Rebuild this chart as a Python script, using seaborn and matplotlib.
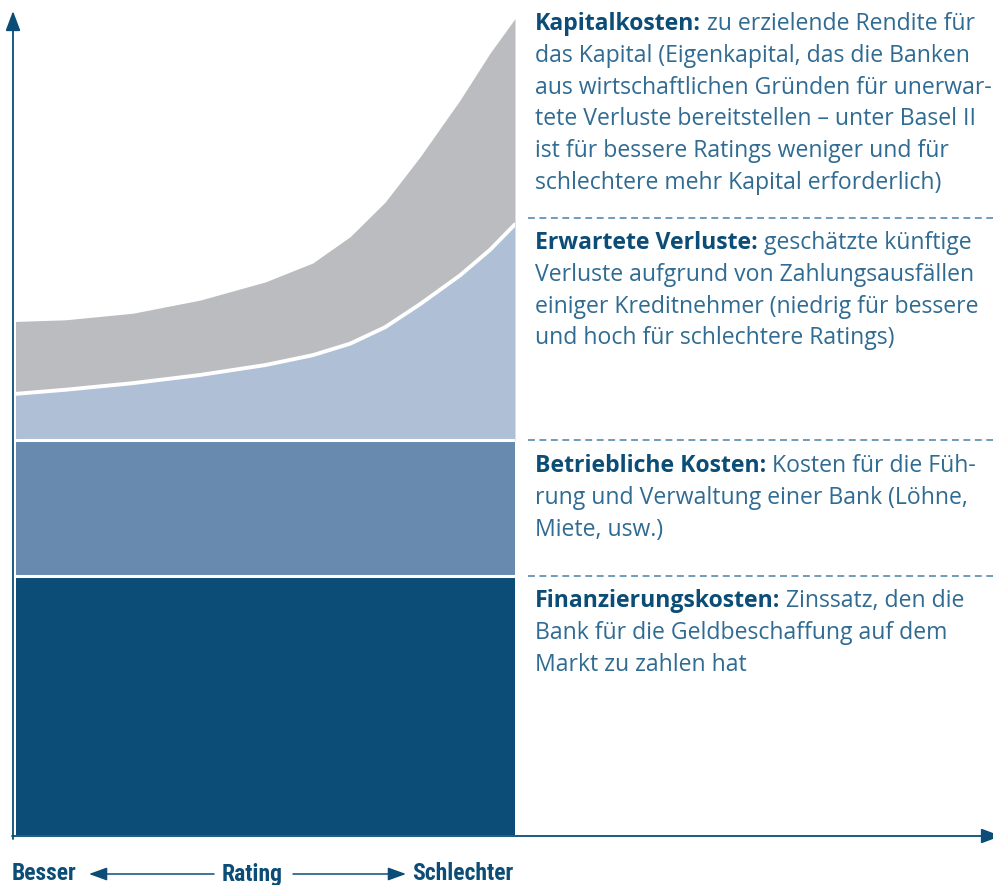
import matplotlib
matplotlib.use("Agg")
import matplotlib.pyplot as plt
import pandas as pd
import seaborn as sns

W, H = 993, 885

# rating position along the x axis (0 = besser, 10 = schlechter)
RATING = [0, 1.0, 2.35, 3.7, 5.0, 5.95, 6.7, 7.4, 8.1, 8.9, 9.5, 10]

# layer thickness (arbitrary cost units, axis top = 100)
FINANZIERUNGSKOSTEN = [31.5] * len(RATING)
BETRIEBLICHE_KOSTEN = [16.5] * len(RATING)
ERWARTETE_VERLUSTE = [5.6, 6.1, 6.9, 7.9, 9.1, 10.3, 11.7, 13.7, 16.5, 20.0, 23.1, 26.2]
KAPITALKOSTEN = [8.8, 8.5, 8.5, 9.1, 10.1, 11.2, 13.0, 15.2, 17.9, 21.3, 23.9, 25.0]

LAYER_NAMES = ["Finanzierungskosten", "Betriebliche Kosten", "Erwartete Verluste", "Kapitalkosten"]
LAYER_COLORS = ["#0b4d76", "#678aae", "#aebfd6", "#bbbcbf"]

AXIS_WORDS = ["Besser", "Rating", "Schlechter"]

BLOCKS = [
    ("Kapitalkosten:", " zu erzielende Rendite für", [
        "das Kapital (Eigenkapital, das die Banken",
        "aus wirtschaftlichen Gründen für unerwar-",
        "tete Verluste bereitstellen – unter Basel II",
        "ist für bessere Ratings weniger und für",
        "schlechtere mehr Kapital erforderlich)",
    ]),
    ("Erwartete Verluste:", " geschätzte künftige", [
        "Verluste aufgrund von Zahlungsausfällen",
        "einiger Kreditnehmer (niedrig für bessere",
        "und hoch für schlechtere Ratings)",
    ]),
    ("Betriebliche Kosten:", " Kosten für die Füh-", [
        "rung und Verwaltung einer Bank (Löhne,",
        "Miete, usw.)",
    ]),
    ("Finanzierungskosten:", " Zinssatz, den die", [
        "Bank für die Geldbeschaffung auf dem",
        "Markt zu zahlen hat",
    ]),
]

NAVY = "#0b4d76"
BODY = "#2f6b92"
DASH = "#4a80a6"

sns.set_theme(style="white")
plt.rcParams["font.family"] = ["Open Sans", "DejaVu Sans"]

df = pd.DataFrame({
    "rating": RATING,
    "Finanzierungskosten": FINANZIERUNGSKOSTEN,
    "Betriebliche Kosten": BETRIEBLICHE_KOSTEN,
    "Erwartete Verluste": ERWARTETE_VERLUSTE,
    "Kapitalkosten": KAPITALKOSTEN,
})
tops = df[LAYER_NAMES].cumsum(axis=1)

fig = plt.figure(figsize=(W / 100, H / 100), dpi=100)
ax = fig.add_axes([15.5 / W, 50 / H, 499.5 / W, 823 / H])

bottom = pd.Series(0.0, index=df.index)
for name, color in zip(LAYER_NAMES, LAYER_COLORS):
    ax.fill_between(df["rating"], bottom, tops[name], color=color, lw=0)
    bottom = tops[name]

# white separators between the layers
for name, lw in zip(LAYER_NAMES[:3], [2.2, 2.2, 2.8]):
    sns.lineplot(x=df["rating"], y=tops[name], color="white", lw=lw, ax=ax,
                 legend=False)
ax.set_xlim(0, 10)
ax.set_ylim(0, 100)
ax.axis("off")


def fy(y):
    return H - y


# axis arrows
arrow = dict(arrowstyle="-|>,head_length=1.2,head_width=0.45", color=NAVY,
             lw=1.3, mutation_scale=10, shrinkA=0, shrinkB=0)
ax.annotate("", xy=(13, fy(11)), xytext=(13, fy(839)), xycoords="figure pixels",
            textcoords="figure pixels", annotation_clip=False, arrowprops=arrow)
ax.annotate("", xy=(1001, fy(836)), xytext=(12, fy(836)), xycoords="figure pixels",
            textcoords="figure pixels", annotation_clip=False, arrowprops=arrow)

# rating direction below the axis
yb = fy(874)
small = dict(arrowstyle="-|>,head_length=1.1,head_width=0.4", color=NAVY,
             lw=1.1, mutation_scale=10, shrinkA=0, shrinkB=0)
for x0, x1 in [(214, 89), (293, 406)]:
    ax.annotate("", xy=(x1, yb), xytext=(x0, yb), xycoords="figure pixels",
                textcoords="figure pixels", annotation_clip=False,
                arrowprops=small)
narrow = ["Roboto Condensed", "Liberation Sans Narrow", "Roboto", "DejaVu Sans"]
for word, x, ha in zip(AXIS_WORDS, [12, 252, 412], ["left", "center", "left"]):
    fig.text(x / W, yb / H, word, ha=ha, va="center", fontsize=17,
             fontweight="bold", color=NAVY, family=narrow)

# dashed separators on the right
for y in [218, 440, 576]:
    fig.add_artist(plt.Line2D([528 / W, 1.0], [fy(y) / H] * 2, color=DASH,
                              lw=1.1, ls=(0, (4.5, 3))))

# descriptions
BASELINES = [30, 249, 472, 607]
LINE_STEP = 31.8
TX = 535
FS = 16.6
for (head, first, rest), base in zip(BLOCKS, BASELINES):
    t = fig.text(TX / W, fy(base) / H, head, ha="left", va="baseline",
                 fontsize=FS, fontweight="bold", color=NAVY)
    ax.annotate(first, xy=(1, fy(base)), xycoords=(t, "figure pixels"),
                ha="left", va="baseline", fontsize=FS, color=BODY,
                annotation_clip=False)
    for i, line in enumerate(rest, start=1):
        fig.text(TX / W, fy(base + i * LINE_STEP) / H, line, ha="left",
                 va="baseline", fontsize=FS, color=BODY)

fig.savefig("out.png", dpi=100)
